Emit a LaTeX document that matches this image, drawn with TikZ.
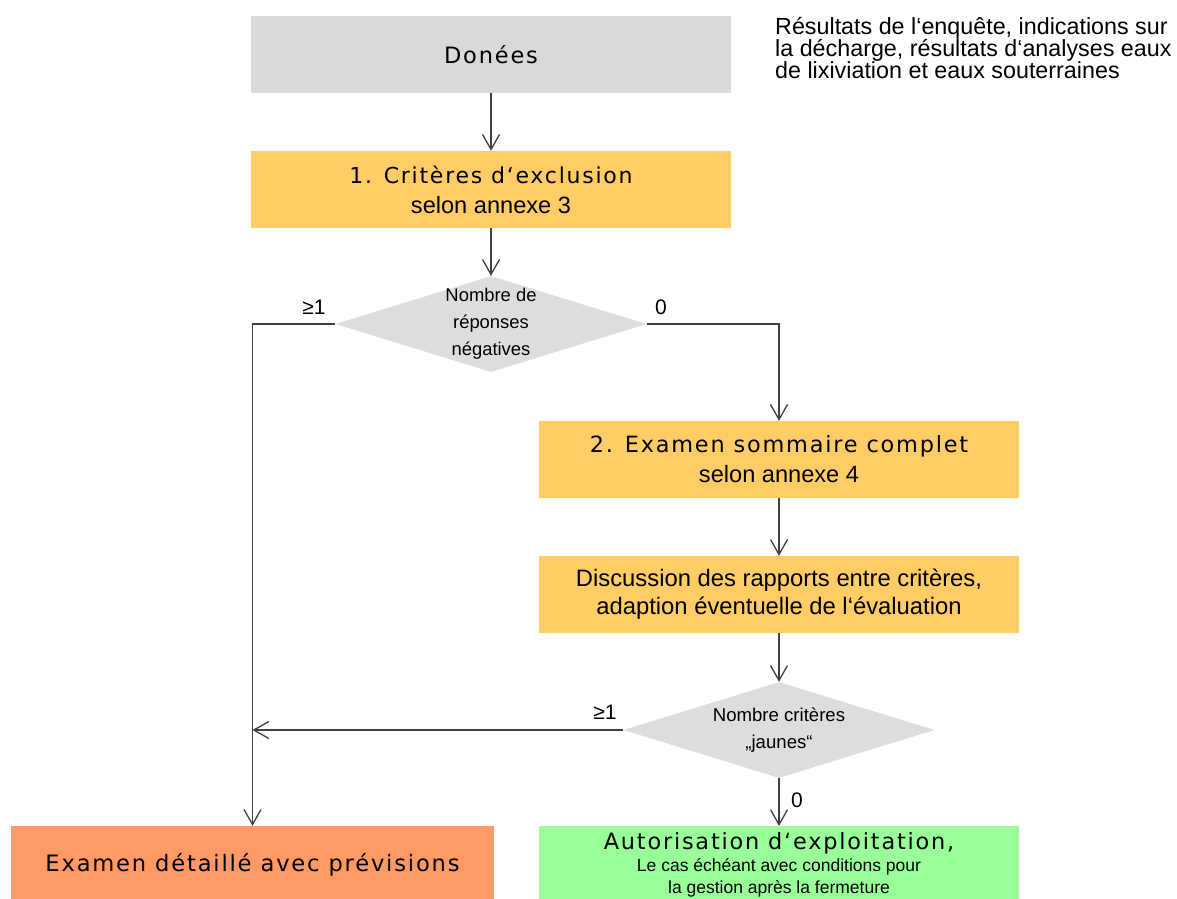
\documentclass[tikz,border=0pt]{standalone}
\usepackage{fontspec}
\setmainfont{Liberation Sans}
\newfontfamily\wide[LetterSpace=8]{DejaVu Sans}
\usetikzlibrary{shapes.geometric,arrows.meta}
\definecolor{gbox}{HTML}{D9D9D9}
\definecolor{gdia}{HTML}{DDDDDD}
\definecolor{ybox}{HTML}{FFCC66}
\definecolor{obox}{HTML}{FF9966}
\definecolor{grbox}{HTML}{99FF99}
\definecolor{ln}{HTML}{404040}
\begin{document}
\begin{tikzpicture}[x=1pt,y=-1pt,
 box/.style={rectangle, minimum width=480pt, minimum height=77pt, inner sep=0pt, align=center, text=black},
 dia/.style={diamond, fill=gdia, minimum width=311pt, minimum height=96pt, inner sep=0pt},
 conn/.style={draw=ln, line width=1.3pt, -{Straight Barb[length=15pt,width=17pt]}},
 lab/.style={font=\fontsize{23.3}{22}\selectfont, inner sep=0pt, text=black}]
\useasboundingbox (0,0) rectangle (1177,898);
\clip (0,0) rectangle (1177,898);

\node[box, fill=gbox, font=\wide\fontsize{22.5}{22}\selectfont] (don) at (491,54.5) {Donées};
\node[box, fill=ybox, font=\fontsize{23.6}{30}\selectfont] (crit) at (491,189.5)
  {{\wide\fontsize{22}{30}\selectfont 1. Critères d‘exclusion}\\selon annexe 3};
\node[dia] (d1) at (491,324) {};
\node[align=center, font=\fontsize{18.4}{27}\selectfont, inner sep=0pt] (t1) at (d1) {Nombre de\\réponses\\négatives};
\node[box, fill=ybox, font=\fontsize{23.6}{30}\selectfont] (exs) at (779,459.5)
  {{\wide\fontsize{22.4}{30}\selectfont 2. Examen sommaire complet}\\selon annexe 4};
\node[box, fill=ybox, font=\fontsize{23.8}{28}\selectfont] (disc) at (779,594.5)
  {Discussion des rapports entre critères,\\adaption éventuelle de l‘évaluation};
\node[dia] (d2) at (779,730) {};
\node[align=center, font=\fontsize{18.6}{27}\selectfont, inner sep=0pt] (t2) at (d2) {Nombre critères\\„jaunes“};
\node[box, fill=obox, minimum width=483pt, font=\wide\fontsize{22.6}{24}\selectfont] (det) at (252.5,864.5) {Examen détaillé avec prévisions};
\node[box, fill=grbox, font=\fontsize{17.5}{22}\selectfont, anchor=north] (aut) at (779,826)
  {{\wide\fontsize{22.4}{22}\selectfont Autorisation d‘exploitation,}\\
   Le cas échéant avec conditions pour\\
   la gestion après la fermeture};

\node[lab, anchor=north west, align=left] (side) at (775,17)
  {Résultats de l‘enquête, indications sur\\la décharge, résultats d‘analyses eaux\\de lixiviation et eaux souterraines};

\coordinate (j) at (252.5,730);
\draw[conn] (don) -- (crit);
\draw[conn] (crit) -- (d1);
\draw[conn] (d1.west) -| (det.north);
\draw[conn] (d1.east) -| (exs.north);
\draw[conn] (exs) -- (disc);
\draw[conn] (disc) -- (d2);
\draw[conn] (d2.west) -- (j);
\draw[conn] (d2.south) -- (aut.north);

\node[lab, font=\fontsize{21}{22}\selectfont] (l1) at (314,307) {≥1};
\node[lab, font=\fontsize{21}{22}\selectfont] (l2) at (661,307) {0};
\node[lab, font=\fontsize{21}{22}\selectfont] (l3) at (605,712) {≥1};
\node[lab, font=\fontsize{21}{22}\selectfont] (l4) at (797,800) {0};
\end{tikzpicture}
\end{document}
